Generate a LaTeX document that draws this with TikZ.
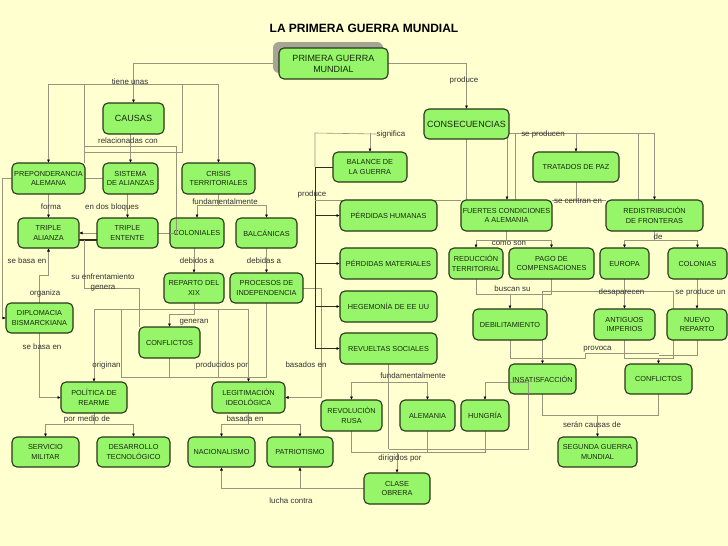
\documentclass[tikz,border=0pt]{standalone}
\usepackage{fontspec}
\setmainfont{Liberation Sans}
\usetikzlibrary{arrows.meta}
\pgfdeclarelayer{back}
\pgfdeclarelayer{wires}
\pgfsetlayers{back,wires,main}
\definecolor{bgcol}{RGB}{255,255,208}
\definecolor{nodefill}{RGB}{150,245,105}
\definecolor{nodeline}{RGB}{40,55,25}
\definecolor{wire}{RGB}{150,150,125}
\definecolor{darkwire}{RGB}{45,45,35}
\definecolor{txt}{RGB}{25,40,15}
\definecolor{shadowgray}{RGB}{165,165,150}
\tikzset{
 box/.style={draw=nodeline, fill=nodefill, line width=1.1pt, rounded corners=5pt, align=center, inner sep=1pt, outer sep=0pt, text=txt, font=\fontsize{7.3}{9.5}\selectfont},
 bigbox/.style={box, font=\fontsize{9}{11}\selectfont},
 lbl/.style={inner sep=0pt, text=black!80, font=\fontsize{7.9}{9.5}\selectfont, align=center},
 wl/.style={draw=wire, line width=0.6pt},
 dl/.style={draw=darkwire, line width=0.7pt},
 arr/.style={-{Latex[length=3.5pt,width=3pt,color=black]}},
}
\begin{document}
\begin{tikzpicture}[x=1pt,y=-1pt]
\begin{pgfonlayer}{back}
\fill[bgcol] (0,0) rectangle (728,546);
\end{pgfonlayer}
\useasboundingbox (0,0) rectangle (728,546);

\node[font=\bfseries\fontsize{12}{14}\selectfont] (title) at (364,28) {LA PRIMERA GUERRA MUNDIAL};
\node[fill=shadowgray, rounded corners=6pt, minimum width=110pt, minimum height=31pt, inner sep=0pt] (pgmshadow) at (328,57.5) {};
\node[bigbox, minimum width=109pt, minimum height=31pt] (pgm) at (333.5,63.5) {PRIMERA GUERRA\\MUNDIAL};
\node[bigbox, minimum width=61pt, minimum height=31pt] (causas) at (133.5,118.5) {CAUSAS};
\node[bigbox, minimum width=85pt, minimum height=30pt] (consec) at (466.5,124) {CONSECUENCIAS};

\node[box, minimum width=73pt, minimum height=31pt] (prep) at (48.5,178.5) {PREPONDERANCIA\\ALEMANA};
\node[box, minimum width=55pt, minimum height=31pt] (sist) at (130.5,178.5) {SISTEMA\\DE ALIANZAS};
\node[box, minimum width=73pt, minimum height=31pt] (crisis) at (218.5,178.5) {CRISIS\\TERRITORIALES};
\node[box, minimum width=74pt, minimum height=30pt] (balance) at (370,167) {BALANCE DE\\LA GUERRA};
\node[box, minimum width=86pt, minimum height=30pt] (tratados) at (576,167) {TRATADOS DE PAZ};

\node[box, minimum width=61pt, minimum height=30pt] (talianza) at (48.5,233) {TRIPLE\\ALIANZA};
\node[box, minimum width=61pt, minimum height=30pt] (tentente) at (127.5,233) {TRIPLE\\ENTENTE};
\node[box, minimum width=54pt, minimum height=30pt] (colon) at (197,233) {COLONIALES};
\node[box, minimum width=61pt, minimum height=30pt] (balc) at (266.5,233) {BALCÁNICAS};

\node[box, minimum width=97pt, minimum height=31pt] (phum) at (388.5,215.5) {PÉRDIDAS HUMANAS};
\node[box, minimum width=91pt, minimum height=31pt] (fuertes) at (506.5,215.5) {FUERTES CONDICIONES\\A ALEMANIA};
\node[box, minimum width=97pt, minimum height=31pt] (redis) at (654.5,215.5) {REDISTRIBUCIÓN\\DE FRONTERAS};

\node[box, minimum width=97pt, minimum height=31pt] (pmat) at (388.5,263.5) {PÉRDIDAS MATERIALES};
\node[box, minimum width=54pt, minimum height=31pt] (reduc) at (476,263.5) {REDUCCIÓN\\TERRITORIAL};
\node[box, minimum width=85pt, minimum height=31pt] (pago) at (551.5,263.5) {PAGO DE\\COMPENSACIONES};
\node[box, minimum width=49pt, minimum height=31pt] (europa) at (624.5,263.5) {EUROPA};
\node[box, minimum width=59pt, minimum height=31pt] (colonias) at (697.5,263.5) {COLONIAS};

\node[box, minimum width=60pt, minimum height=30pt] (reparto) at (194,288) {REPARTO DEL\\XIX};
\node[box, minimum width=73pt, minimum height=30pt] (procesos) at (266.5,288) {PROCESOS DE\\INDEPENDENCIA};
\node[box, minimum width=67pt, minimum height=30pt] (diplo) at (39.5,318) {DIPLOMACIA\\BISMARCKIANA};
\node[box, minimum width=97pt, minimum height=31pt] (hegemonia) at (388.5,306.5) {HEGEMONÍA DE EE UU};
\node[box, minimum width=74pt, minimum height=31pt] (debil) at (510,324.5) {DEBILITAMIENTO};
\node[box, minimum width=61pt, minimum height=31pt] (antiguos) at (624.5,324.5) {ANTIGUOS\\IMPERIOS};
\node[box, minimum width=60pt, minimum height=31pt] (nuevo) at (697,324.5) {NUEVO\\REPARTO};

\node[box, minimum width=61pt, minimum height=31pt] (conflL) at (169.5,342.5) {CONFLICTOS};
\node[box, minimum width=97pt, minimum height=31pt] (revueltas) at (388.5,348.5) {REVUELTAS SOCIALES};
\node[box, minimum width=67pt, minimum height=30pt] (insat) at (542.5,379) {INSATISFACCIÓN};
\node[box, minimum width=67pt, minimum height=30pt] (conflR) at (658.5,379) {CONFLICTOS};

\node[box, minimum width=66pt, minimum height=31pt] (politica) at (94,397.5) {POLÍTICA DE\\REARME};
\node[box, minimum width=73pt, minimum height=31pt] (legit) at (248.5,397.5) {LEGITIMACIÓN\\IDEOLÓGICA};
\node[box, minimum width=61pt, minimum height=31pt] (revol) at (351.5,415.5) {REVOLUCIÓN\\RUSA};
\node[box, minimum width=55pt, minimum height=31pt] (alemania) at (427.5,415.5) {ALEMANIA};
\node[box, minimum width=48pt, minimum height=31pt] (hungria) at (485,415.5) {HUNGRÍA};

\node[box, minimum width=67pt, minimum height=30pt] (servicio) at (45.5,452) {SERVICIO\\MILITAR};
\node[box, minimum width=73pt, minimum height=30pt] (desarrollo) at (133.5,452) {DESARROLLO\\TECNOLÓGICO};
\node[box, minimum width=67pt, minimum height=30pt] (nacion) at (221.5,452) {NACIONALISMO};
\node[box, minimum width=66pt, minimum height=30pt] (patrio) at (300,452) {PATRIOTISMO};
\node[box, minimum width=79pt, minimum height=30pt] (segunda) at (597.5,452) {SEGUNDA GUERRA\\MUNDIAL};
\node[box, minimum width=66pt, minimum height=31pt] (clase) at (397,488.5) {CLASE\\OBRERA};

% labels
\node[lbl] (ltiene) at (130,82) {tiene unas};
\node[lbl] (lproduce1) at (464,80) {produce};
\node[lbl] (lrel) at (128,140.5) {relacionadas con};
\node[lbl] (lforma) at (51,207) {forma};
\node[lbl] (lbloques) at (112,207) {en dos bloques};
\node[lbl] (lfund1) at (225,202) {fundamentalmente};
\node[lbl] (lsig) at (391,134) {significa};
\node[lbl] (lseprod) at (543,134) {se producen};
\node[lbl] (lproduce2) at (312,194) {produce};
\node[lbl] (lcentran) at (578,201) {se centran en};
\node[lbl] (lcomo) at (509,243) {como son};
\node[lbl] (lde) at (658,237) {de};
\node[lbl] (ldebidos) at (197,261) {debidos a};
\node[lbl] (ldebidas) at (264,261) {debidas a};
\node[lbl] (lbasa1) at (27,261) {se basa en};
\node[lbl] (lenfr) at (103,282.5) {su enfrentamiento\\genera};
\node[lbl] (lorg) at (45,293) {organiza};
\node[lbl] (lbasa2) at (42,347) {se basa en};
\node[lbl] (lgeneran) at (194,322) {generan};
\node[lbl] (lorig) at (106.5,365) {originan};
\node[lbl] (lprodpor) at (222,365) {producidos por};
\node[lbl] (lbasados) at (306,365) {basados en};
\node[lbl] (lbuscan) at (512.5,289) {buscan su};
\node[lbl] (ldesap) at (621.5,292.5) {desaparecen};
\node[lbl] (lprodun) at (700.5,292.5) {se produce un};
\node[lbl] (lprovoca) at (597.5,349) {provoca};
\node[lbl] (lfund2) at (413,376) {fundamentalmente};
\node[lbl] (ldirig) at (400,458) {dirigidos por};
\node[lbl] (lseran) at (592,425) {serán causas de};
\node[lbl] (lmedio) at (87,419) {por medio de};
\node[lbl] (lbasada) at (245,419) {basada en};
\node[lbl] (llucha) at (291,501) {lucha contra};

\begin{pgfonlayer}{wires}
% top
\draw[wl,arr] (pgm.west) -| (causas.north);
\draw[wl,arr] (pgm.east) -| (consec.north);
\coordinate (j84) at (133.5,84);
\draw[wl,arr] (j84) -| (prep.north);
\draw[wl,arr] (j84) -| (crisis.north);
\coordinate (ja) at (84,84);
\draw[wl] (ja) -- (ja |- prep.north);
\coordinate (jb152) at (84,152);
\coordinate (jb146) at (84,146);
\draw[wl] (jb152) -- (182,152) -- (182,84);
\draw[wl,arr] (jb146) -- (176,146) -- (176,233) -- (talianza.east);
\draw[wl,arr] (causas.south -| sist.north) -- (sist.north);
\draw[wl] (prep.east) -- (sist.west);
\draw[wl,arr] (prep.west) -- (2,178.5) |- (diplo.west);
\draw[wl,arr] (prep.south) -- (talianza.north);
\draw[wl,arr] (sist.south -| tentente.north) -- (tentente.north);
\coordinate (jf) at (218.5,205);
\draw[wl] (crisis.south) -- (jf);
\draw[wl,arr] (jf) -| (colon.north);
\draw[wl,arr] (jf) -| (balc.north);
\draw[wl,arr] (colon.south -| reparto.north) -- (reparto.north);
\draw[wl,arr] (balc.south) -- (procesos.north);
\draw[darkwire, line width=1.3pt] (talianza.east |- 0,240) -- (tentente.west |- 0,240);
\coordinate (js) at (84,240);
\draw[wl] (js) -- (84,288) -- (139,288) -- (conflL.north west);
\draw[wl,arr] (diplo.north) -- (39.5,275) -- (48.5,275) -- (talianza.south);
\draw[wl,arr] (diplo.south) |- (politica.west);
\draw[wl,arr] (reparto.south) -- (194,314) -| (conflL.north);
% rectangle
\coordinate (jt1) at (94,309);
\coordinate (jt2) at (248.5,309);
\draw[wl] (jt1) -- (jt2);
\draw[wl,arr] (jt1) -- (politica.north);
\draw[wl,arr] (jt2) -- (legit.north);
\coordinate (jr) at (169.5,377);
\coordinate (jl) at (121,377);
\coordinate (jrr) at (266.5,377);
\coordinate (jm) at (218,377);
\draw[wl] (conflL.south) -- (jr);
\draw[wl] (jl) -- (jrr);
\draw[wl] (jl) -- (jl |- jt1);
\draw[wl] (jm) -- (jm |- jt1);
\draw[wl] (procesos.south) -- (jrr);
\draw[wl,arr] (procesos.east) -- (321,288) |- (legit.east);
\coordinate (jp) at (94,424);
\draw[wl] (politica.south) -- (jp);
\draw[wl,arr] (jp) -| (servicio.north);
\draw[wl,arr] (jp) -| (desarrollo.north);
\coordinate (jb) at (248.5,424);
\draw[wl] (legit.south) -- (jb);
\draw[wl,arr] (jb) -| (nacion.north);
\draw[wl,arr] (jb) -| (patrio.north);
\draw[wl,arr] (clase.west) -| (nacion.south);
\draw[wl,arr] (clase.west -| patrio.south) -- (patrio.south);
% consecuencias side
\coordinate (jsig) at (315,133);
\coordinate (jpr) at (315,167);
\draw[wl] (lsig.west) -- (jsig) -- (jpr);
\draw[wl,arr] (balance.north |- jsig) -- (balance.north);
\draw[dl] (balance.west) -- (jpr) -- (315,348.5);
\draw[dl,arr] (jpr |- phum.west) -- (phum.west);
\draw[dl,arr] (jpr |- pmat.west) -- (pmat.west);
\draw[dl,arr] (jpr |- hegemonia.west) -- (hegemonia.west);
\draw[dl,arr] (jpr |- revueltas.west) -- (revueltas.west);
\draw[wl] (jpr |- fuertes.north) -- (fuertes.north west);
\draw[wl] (consec.south) -- (consec.south |- fuertes.north);
\coordinate (jc) at (507,133);
\coordinate (jc2) at (515,133);
\coordinate (jc3) at (638,133);
\draw[wl,arr] (jc) -| (redis.north);
\draw[wl,arr] (jc) -- (jc |- fuertes.north);
\draw[wl] (jc2) -- (jc2 |- fuertes.north);
\draw[wl] (jc3) -- (jc3 |- redis.north);
\draw[wl,arr] (tratados.north |- jc) -- (tratados.north);
\draw[wl] (tratados.south) -- (tratados.south |- fuertes.north);
\draw[wl] (fuertes.north east) -- (redis.north west);
\coordinate (jcs) at (506.5,240);
\draw[wl] (fuertes.south) -- (jcs);
\draw[wl,arr] (jcs) -| (reduc.north);
\draw[wl,arr] (jcs) -| (pago.north);
\coordinate (jde) at (654.5,240);
\draw[wl] (redis.south) -- (jde);
\draw[wl,arr] (jde) -| (europa.north);
\draw[wl,arr] (jde) -| (colonias.north);
\coordinate (jbs) at (551.5,294);
\draw[wl] (reduc.south) |- (jbs) -- (pago.south);
\draw[wl,arr] (debil.north |- jbs) -- (debil.north);
\draw[wl,arr] (europa.south) -- (antiguos.north);
\draw[wl,arr] (colonias.south -| nuevo.north) -- (nuevo.north);
\coordinate (jx1) at (542.5,291);
\coordinate (jx2) at (673,291);
\coordinate (jv) at (542.5,358);
\coordinate (jw) at (658.5,358);
\draw[wl] (jx1) -- (jx2) -- (673,358) -- (jw);
\draw[wl] (jx1) -- (jv);
\draw[wl] (debil.south) |- (jv);
\draw[wl,arr] (jv) -- (insat.north);
\draw[wl] (jv) -- (585,358) -- (585,353) -- (658.5,353);
\draw[wl] (antiguos.south) |- (jw);
\draw[wl,arr] (jw) -- (conflR.north);
\draw[wl] (nuevo.south) |- (658.5,355);
% bottom middle
\coordinate (jfu) at (388.5,382);
\draw[wl] (revueltas.south) -- (388.5,449);
\draw[wl,arr] (jfu) -| (revol.north);
\draw[wl,arr] (jfu) -| (alemania.north);
\coordinate (jh) at (528,382);
\draw[wl,arr] (jh) -| (hungria.north);
\draw[wl] (jh) -- (528,449) -- (388.5,449);
\coordinate (jd) at (397,452);
\draw[wl] (revol.south) |- (hungria.south |- jd) -- (hungria.south);
\draw[wl] (alemania.south) -- (alemania.south |- jd);
\draw[wl,arr] (jd) -- (clase.north);
\coordinate (jsc) at (597.5,415);
\draw[wl] (insat.south) |- (conflR.south |- jsc) -- (conflR.south);
\draw[wl,arr] (jsc) -- (segunda.north);
\end{pgfonlayer}

% lines drawn over nodes
\coordinate (ov1) at (176,219);
\draw[wl] (ov1) -- (176,233) -- (colon.west);
\coordinate (ov2) at (509.5,382);
\draw[wl] (ov2) -- (jh) -- (528,393.5);
\end{tikzpicture}
\end{document}
